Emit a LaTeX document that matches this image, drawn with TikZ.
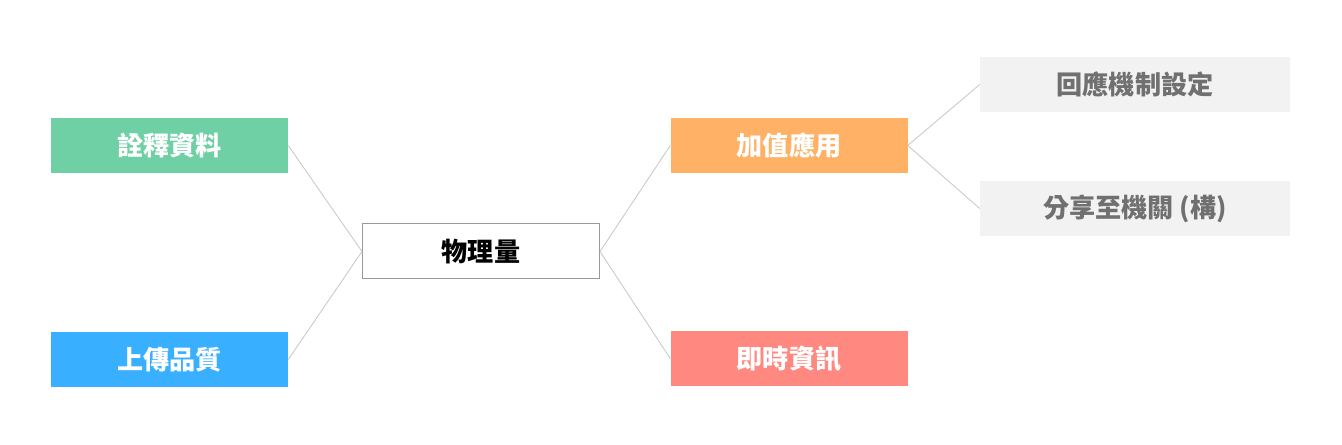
\documentclass[tikz,border=0pt]{standalone}
\usepackage{fontspec}
\setmainfont{Noto Sans CJK TC}
\definecolor{metagreen}{RGB}{111,207,165}
\definecolor{uploadblue}{RGB}{56,176,255}
\definecolor{valueorange}{RGB}{255,178,102}
\definecolor{livered}{RGB}{255,136,128}
\definecolor{subgray}{RGB}{242,242,242}
\definecolor{subtext}{RGB}{112,112,112}
\definecolor{linkgray}{RGB}{204,204,204}
\definecolor{framegray}{RGB}{153,153,153}
\begin{document}
\begin{tikzpicture}[x=0.75pt, y=-0.75pt,
 topic/.style={rectangle, minimum width=177.75pt, minimum height=41.25pt, inner sep=0pt,
  font=\bfseries\fontsize{19.6}{19.6}\selectfont, text=white},
 subtopic/.style={rectangle, fill=subgray, minimum width=232.5pt, minimum height=41.25pt,
  inner sep=0pt, font=\bfseries\fontsize{19.6}{19.6}\selectfont, text=subtext},
 link/.style={draw=linkgray, line width=0.7pt}]
 \useasboundingbox (0,0) rectangle (1342,445);

 \draw node[topic, draw=framegray, line width=0.75pt, fill=white, text=black] (phys) at (481,251.5) {物理量};
 \draw node[topic, fill=metagreen] (meta) at (169.5,145.5) {詮釋資料};
 \draw node[topic, fill=uploadblue] (upload) at (169.5,359.5) {上傳品質};
 \draw node[topic, fill=valueorange] (value) at (789,145.5) {加值應用};
 \draw node[topic, fill=livered] (live) at (789,358.5) {即時資訊};
 \draw node[subtopic] (reply) at (1135,84.5) {回應機制設定};
 \draw node[subtopic] (share) at (1135,208.5) {分享至機關 (構)};

 \draw[link] (meta.east) -- (phys.west);
 \draw[link] (upload.east) -- (phys.west);
 \draw[link] (phys.east) -- (value.west);
 \draw[link] (phys.east) -- (live.west);
 \draw[link] (value.east) -- (reply.west);
 \draw[link] (value.east) -- (share.west);
\end{tikzpicture}
\end{document}
